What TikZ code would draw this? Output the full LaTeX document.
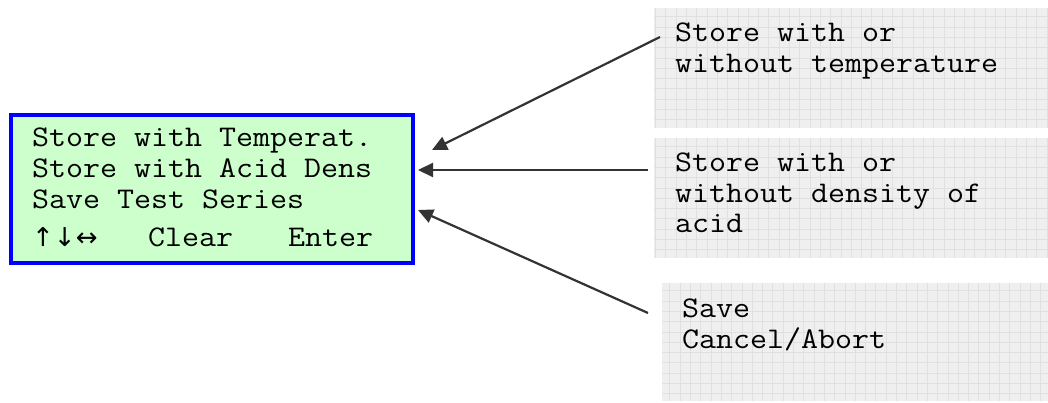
\documentclass[tikz,border=0pt]{standalone}
\usepackage{graphicx}
\usepackage{fontspec}
\newfontfamily\arrowf{DejaVu Sans}
\usetikzlibrary{arrows.meta,calc}
\definecolor{lcdgreen}{HTML}{CCFFCC}
\definecolor{lcdblue}{HTML}{0000FF}
\definecolor{notebg}{HTML}{EFEFEF}
\definecolor{notegrid}{HTML}{E0E0E0}
\definecolor{arrowc}{HTML}{333333}
\newcommand{\mono}[1]{\scalebox{1.1}[1]{#1}}
\newcommand{\lcdarrows}{{\arrowf\fontsize{26pt}{30pt}\selectfont ↑↓↔}}
\tikzset{
  lcdbox/.style={draw=lcdblue, line width=4pt, fill=lcdgreen, rectangle, inner sep=0pt},
  notebox/.style={fill=notebg, draw=none, rectangle, inner sep=0pt, anchor=north west,
    path picture={\draw[notegrid, line width=0.7pt, step=10.3pt]
      (path picture bounding box.south west) grid (path picture bounding box.north east);}},
  txt/.style={font=\ttfamily\fontsize{30pt}{31pt}\selectfont, anchor=base west, inner sep=0pt, text=black},
  pointer/.style={draw=arrowc, line width=2.2pt, -{Triangle[length=15pt,width=14pt]}},
}
\begin{document}
\begin{tikzpicture}[x=1pt,y=-1pt]
\useasboundingbox (0,0) rectangle (1048,403);
% LCD display
\node[lcdbox, minimum width=402pt, minimum height=148pt, anchor=north west] (lcd) at (9,113) {};
\node[txt] (l1) at (32,147) {\mono{Store with Temperat.}};
\node[txt] (l2) at (32,178) {\mono{Store with Acid Dens}};
\node[txt] (l3) at (32,209) {\mono{Save Test Series}};
\node[txt] (l4) at (32,247) {\makebox[116pt][l]{\lcdarrows}\mono{Clear}\hspace{55pt}\mono{Enter}};
% note boxes
\node[notebox, minimum width=394pt, minimum height=120pt] (n1) at (654,8) {};
\node[notebox, minimum width=394pt, minimum height=120pt] (n2) at (654,138) {};
\node[notebox, minimum width=386pt, minimum height=118pt] (n3) at (662,283) {};
\node[txt] (t11) at (675,42) {\mono{Store with or}};
\node[txt] (t12) at (675,73) {\mono{without temperature}};
\node[txt] (t21) at (675,172) {\mono{Store with or}};
\node[txt] (t22) at (675,203) {\mono{without density of}};
\node[txt] (t23) at (675,233) {\mono{acid}};
\node[txt] (t31) at (682,317) {\mono{Save}};
\node[txt] (t32) at (682,348) {\mono{Cancel/Abort}};
% connector ends
\coordinate (s1) at (660,37);
\coordinate (e1) at (432,150);
\coordinate (s2) at (648,170);
\coordinate (e2) at (418,170);
\coordinate (s3) at (648,313);
\coordinate (e3) at (418,210);
\draw[pointer] (s1) -- (e1);
\draw[pointer] (s2) -- (e2);
\draw[pointer] (s3) -- (e3);
\end{tikzpicture}
\end{document}
